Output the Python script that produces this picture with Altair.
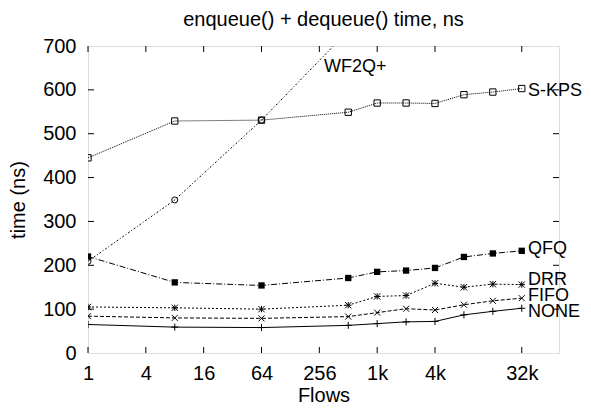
import altair as alt
import pandas as pd

flows = [1, 8, 64, 512, 1024, 2048, 4096, 8192, 16384, 32768]
none_vals = [65, 59, 58, 63, 67, 71, 72, 87, 95, 102]
fifo_vals = [84, 80, 79, 83, 92, 101, 98, 110, 119, 125]
drr_vals = [105, 103, 100, 109, 129, 131, 159, 150, 157, 156]
qfq_vals = [220, 161, 154, 171, 185, 188, 194, 219, 227, 233]
skps_vals = [445, 529, 531, 549, 570, 570, 569, 589, 595, 603]
wf2q_flows = [1, 8, 64, 512]
wf2q_vals = [209, 349, 531, 735]

xtick_values = [1, 4, 16, 64, 256, 1024, 4096, 32768]
xtick_labels = ["1", "4", "16", "64", "256", "1k", "4k", "32k"]
ytick_values = [100, 200, 300, 400, 500, 600]

label_names = ["S-KPS", "QFQ", "DRR", "FIFO", "NONE", "WF2Q+"]
label_x = [40000, 40000, 40000, 40000, 40000, 300]
label_y = [598, 237, 166, 131, 93, 653]

FONT = "Liberation Sans"
W, H = 471, 307

xscale = alt.Scale(type="log", base=2, domain=[1, 80000], nice=False)
yscale = alt.Scale(domain=[0, 700], nice=False)

label_expr = " : ".join(
    [f"datum.value == {v} ? '{l}'" for v, l in zip(xtick_values, xtick_labels)]
) + " : ''"

PLUS = "M-1,0L1,0M0,-1L0,1"
CROSS = "M-1,-1L1,1M-1,1L1,-1"
STAR = "M-1,0L1,0M0,-1L0,1M-1,-1L1,1M-1,1L1,-1"

series = [
    ("NONE", flows, none_vals, [], PLUS, False, 50, "#000000"),
    ("FIFO", flows, fifo_vals, [4, 2], CROSS, False, 36, "#000000"),
    ("DRR", flows, drr_vals, [2, 2], STAR, False, 40, "#000000"),
    ("QFQ", flows, qfq_vals, [6, 2, 1, 2], "square", True, 40, "#000000"),
    ("S-KPS", flows, skps_vals, [1, 1], "square", False, 40, "#000000"),
    ("WF2Q+", wf2q_flows, wf2q_vals, [2, 2, 1, 2], "circle", False, 36, "#000000"),
]

layers = []
for name, xs, ys, dash, shape, filled, size, color in series:
    df = pd.DataFrame({"flows": xs, "time": ys})
    base = alt.Chart(df).encode(
        x=alt.X("flows:Q", scale=xscale,
                axis=alt.Axis(values=xtick_values, labelExpr=label_expr, title="Flows",
                              ticks=False, tickSize=0, domain=False, grid=False,
                              labelFont=FONT, labelFontSize=20, labelColor="black",
                              labelPadding=10, titleFont=FONT, titleFontSize=20,
                              titleFontWeight="normal", titleColor="black", titlePadding=2,
                              labelFlush=False)),
        y=alt.Y("time:Q", scale=yscale,
                axis=alt.Axis(values=[0, 100, 200, 300, 400, 500, 600, 700], title="time (ns)",
                              ticks=False, tickSize=0, domain=False, grid=False,
                              labelFont=FONT, labelFontSize=20, labelColor="black",
                              labelPadding=12, titleFont=FONT, titleFontSize=20,
                              titleFontWeight="normal", titleColor="black", titlePadding=14,
                              labelFlush=False)),
    )
    line_kwargs = dict(color=color, strokeWidth=1, clip=True)
    if dash:
        line_kwargs["strokeDash"] = dash
    layers.append(base.mark_line(**line_kwargs))
    pt_kwargs = dict(shape=shape, filled=filled, size=size, color=color, strokeWidth=1,
                     opacity=1, clip=True)
    layers.append(base.mark_point(**pt_kwargs))

xt = pd.DataFrame({"flows": xtick_values})
yt = pd.DataFrame({"time": ytick_values})
layers.append(alt.Chart(xt).mark_rule(color="black", strokeWidth=1).encode(
    x=alt.X("flows:Q", scale=xscale), y=alt.value(H), y2=alt.value(H - 6)))
layers.append(alt.Chart(xt).mark_rule(color="black", strokeWidth=1).encode(
    x=alt.X("flows:Q", scale=xscale), y=alt.value(0), y2=alt.value(6)))
layers.append(alt.Chart(yt).mark_rule(color="black", strokeWidth=1).encode(
    y=alt.Y("time:Q", scale=yscale), x=alt.value(0), x2=alt.value(6)))
layers.append(alt.Chart(yt).mark_rule(color="black", strokeWidth=1).encode(
    y=alt.Y("time:Q", scale=yscale), x=alt.value(W - 6), x2=alt.value(W)))

labels = pd.DataFrame({"name": label_names, "flows": label_x, "time": label_y})
layers.append(alt.Chart(labels).mark_text(
    font=FONT, fontSize=18, align="left", baseline="middle", dx=-2, color="black"
).encode(x=alt.X("flows:Q", scale=xscale), y=alt.Y("time:Q", scale=yscale), text="name:N"))

chart = alt.layer(*layers).properties(
    width=W, height=H,
    title=alt.TitleParams("enqueue() + dequeue() time, ns", font=FONT, fontSize=20,
                          fontWeight="normal", color="black", anchor="middle", offset=6),
    autosize=alt.AutoSizeParams(type="none"),
    padding={"left": 80, "top": 38, "right": 24, "bottom": 55},
).configure_view(stroke="black", strokeWidth=1).configure(background="white")

chart.save("out.html", embed_options={"renderer": "svg", "actions": False})
